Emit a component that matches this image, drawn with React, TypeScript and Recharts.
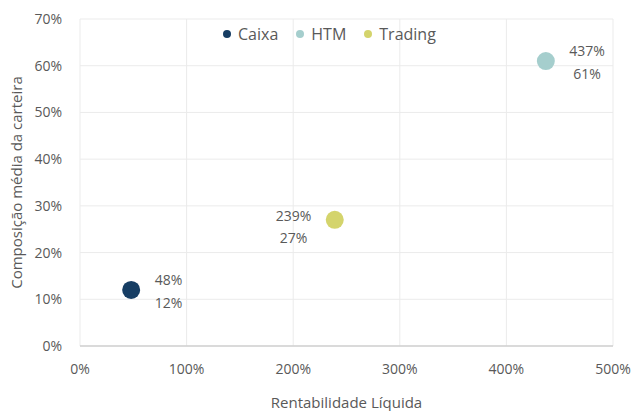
import React from 'react';
import { ScatterChart, Scatter, XAxis, YAxis, CartesianGrid, Legend, LabelList } from 'recharts';

const seriesNames = ['Caixa', 'HTM', 'Trading'];
const rentabilidade = [48, 437, 239];
const composicao = [12, 61, 27];
const colors = ['#163d63', '#a5cecd', '#d4d46c'];

const xTicks = [0, 100, 200, 300, 400, 500];
const yTicks = [0, 10, 20, 30, 40, 50, 60, 70];

// label placement per series: side of the point and vertical shifts of the two lines
const labelSide = [1, 1, -1];
const labelDy = [[-10, 13], [-10, 13], [-4, 18]];

const font = '"Open Sans", sans-serif';
const textColor = '#595959';

const makeLabel = (idx: number) => (props: any) => {
    const { x, y, width, height } = props;
    const cx = x + width / 2;
    const cy = y + height / 2;
    const top = `${rentabilidade[idx]}%`;
    const bottom = `${composicao[idx]}%`;
    const w = top.length * 7.6;
    const center = cx + labelSide[idx] * (26 + w / 2);
    return (
        <g>
            <text x={center} y={cy + labelDy[idx][0]} dy="0.35em" textAnchor="middle" fill={textColor} fontSize={14} fontFamily={font}>
                {top}
            </text>
            <text x={center} y={cy + labelDy[idx][1]} dy="0.35em" textAnchor="middle" fill={textColor} fontSize={14} fontFamily={font}>
                {bottom}
            </text>
        </g>
    );
};

const Dot = (props: any) => <circle cx={props.cx} cy={props.cy} r={9} fill={props.fill} />;

const renderLegend = () => (
    <div style={{ display: 'flex', gap: 18, fontFamily: font, fontSize: 16, color: textColor }}>
        {seriesNames.map((n, i) => (
            <div key={n} style={{ display: 'flex', alignItems: 'center' }}>
                <span style={{ width: 8, height: 8, borderRadius: 4, background: colors[i], marginRight: 7 }} />
                <span>{n}</span>
            </div>
        ))}
    </div>
);

const App = () => {
    const series = seriesNames.map((name, i) => ({
        name,
        color: colors[i],
        data: [{ x: rentabilidade[i], y: composicao[i] }],
    }));

    return (
        <div style={{ position: 'absolute', left: 0, top: 0, width: 636, height: 411, background: '#fff' }}>
            <ScatterChart width={636} height={411} margin={{ top: 19, right: 23, left: 0, bottom: 0 }}>
                <CartesianGrid stroke="#ebebeb" />
                <XAxis
                    type="number"
                    dataKey="x"
                    domain={[0, 500]}
                    ticks={xTicks}
                    tickFormatter={(v) => `${v}%`}
                    tickLine={false}
                    axisLine={{ stroke: '#d0d0d0', strokeWidth: 1.5 }}
                    tickMargin={12}
                    height={65}
                    tick={{ fontSize: 14, fill: textColor, fontFamily: font }}
                    label={{ value: 'Rentabilidade Líquida', position: 'insideBottom', offset: 3, style: { fontSize: 15, fill: textColor, fontFamily: font } }}
                />
                <YAxis
                    type="number"
                    dataKey="y"
                    domain={[0, 70]}
                    ticks={yTicks}
                    tickFormatter={(v) => `${v}%`}
                    tickLine={false}
                    axisLine={false}
                    tickMargin={12}
                    width={80}
                    tick={{ fontSize: 14, fill: textColor, fontFamily: font }}
                    label={{ value: 'Composição média da carteira', angle: -90, position: 'insideLeft', offset: 17, style: { textAnchor: 'middle', fontSize: 15, fill: textColor, fontFamily: font } }}
                />
                <Legend verticalAlign="middle" content={renderLegend} wrapperStyle={{ top: 23, left: 223, width: 240 }} />
                {series.map((s, i) => (
                    <Scatter key={s.name} name={s.name} data={s.data} fill={s.color} shape={Dot} isAnimationActive={false}>
                        <LabelList dataKey="y" content={makeLabel(i)} />
                    </Scatter>
                ))}
            </ScatterChart>
        </div>
    );
};

export default App;
